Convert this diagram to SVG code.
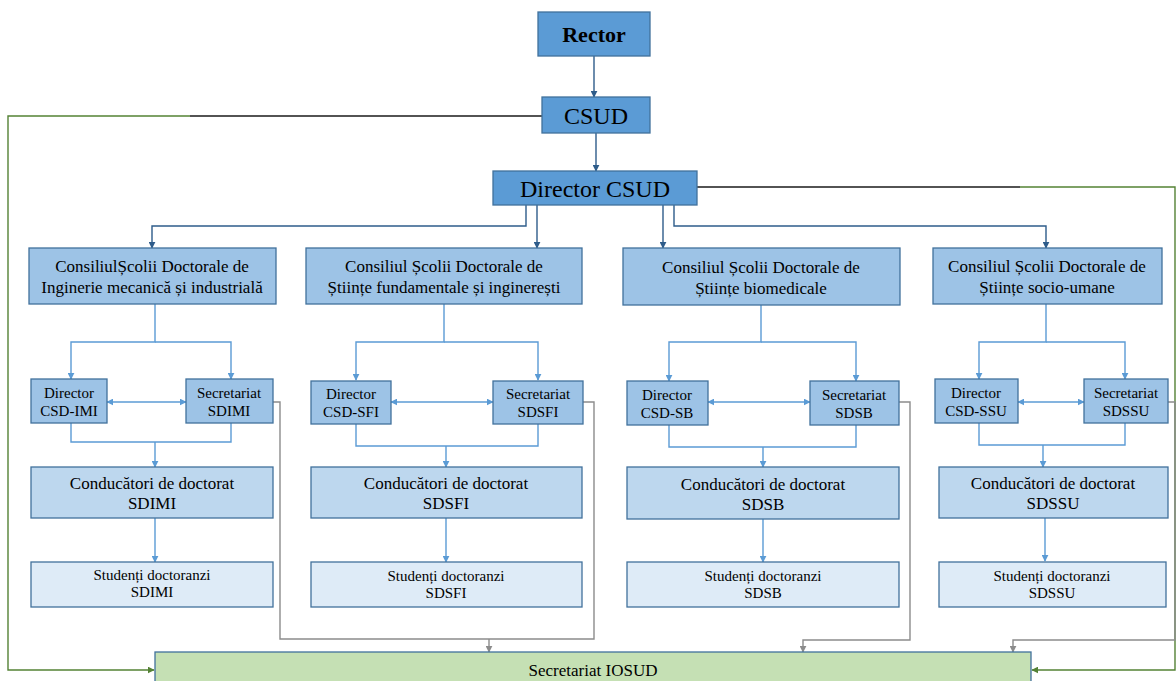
<svg xmlns="http://www.w3.org/2000/svg" width="1176" height="681" viewBox="0 0 1176 681" font-family="'Liberation Serif','Times New Roman',serif">
<style>
text{font-family:"Liberation Serif","Times New Roman",serif;fill:#000;text-anchor:middle}
.top{fill:#5B9BD5;stroke:#41719C;stroke-width:1.3}
.mid{fill:#9DC3E6;stroke:#41719C;stroke-width:1.3}
.cond{fill:#BDD7EE;stroke:#41719C;stroke-width:1.3}
.stud{fill:#DEEBF7;stroke:#41719C;stroke-width:1.3}
.ios{fill:#C5E0B4;stroke:#41719C;stroke-width:1.3}
.dk{fill:none;stroke:#2E5C8A;stroke-width:1.4}
.lb{fill:none;stroke:#5B9BD5;stroke-width:1.4}
.gr{fill:none;stroke:#8C8C8C;stroke-width:1.4}
.gn{fill:none;stroke:#548235;stroke-width:1.4}
.bk{fill:none;stroke:#1a1a1a;stroke-width:1.4}
.t16{font-size:17px}
.t14{font-size:15px}
.t24{font-size:24px}
</style>
<defs>
<marker id="ad" viewBox="0 0 10 10" refX="9" refY="5" markerWidth="7" markerHeight="7" markerUnits="userSpaceOnUse" orient="auto"><path d="M0,0 L10,5 L0,10 z" fill="#2E5C8A"/></marker>
<marker id="al" viewBox="0 0 10 10" refX="9" refY="5" markerWidth="7" markerHeight="7" markerUnits="userSpaceOnUse" orient="auto-start-reverse"><path d="M0,0 L10,5 L0,10 z" fill="#5B9BD5"/></marker>
<marker id="ag" viewBox="0 0 10 10" refX="9" refY="5" markerWidth="7" markerHeight="7" markerUnits="userSpaceOnUse" orient="auto"><path d="M0,0 L10,5 L0,10 z" fill="#8C8C8C"/></marker>
<marker id="an" viewBox="0 0 10 10" refX="9" refY="5" markerWidth="7" markerHeight="7" markerUnits="userSpaceOnUse" orient="auto"><path d="M0,0 L10,5 L0,10 z" fill="#548235"/></marker>
</defs>

<g id="connectors">
<path class="dk" d="M594,56 V97" marker-end="url(#ad)"/>
<path class="dk" d="M596,133 V171" marker-end="url(#ad)"/>
<path class="dk" d="M526,205 V226 H152 V248" marker-end="url(#ad)"/>
<path class="dk" d="M537,205 V248" marker-end="url(#ad)"/>
<path class="dk" d="M663,205 V248" marker-end="url(#ad)"/>
<path class="dk" d="M674,205 V226 H1046 V248" marker-end="url(#ad)"/>
<path class="bk" d="M542,116 H190"/>
<path class="gn" d="M190,116 H8 V670 H154" marker-end="url(#an)"/>
<path class="bk" d="M697,187 H1020"/>
<path class="gn" d="M1020,187 H1175 V670 H1032" marker-end="url(#an)"/>

<path class="lb" d="M155,304 V342 H71 V379" marker-end="url(#al)"/>
<path class="lb" d="M155,342 H231 V379" marker-end="url(#al)"/>
<path class="lb" d="M107,402 H186" marker-start="url(#al)" marker-end="url(#al)"/>
<path class="lb" d="M71,423 V442 H231 V423"/>
<path class="lb" d="M155,442 V467" marker-end="url(#al)"/>
<path class="lb" d="M155,518 V562" marker-end="url(#al)"/>
<path class="gr" d="M273,402 H280 V639 H594 V402 H583"/>
<path class="gr" d="M489,639 V652" marker-end="url(#ag)"/>

<path class="lb" d="M444,304 V342 H356 V380" marker-end="url(#al)"/>
<path class="lb" d="M444,342 H538 V380" marker-end="url(#al)"/>
<path class="lb" d="M391,402 H493" marker-start="url(#al)" marker-end="url(#al)"/>
<path class="lb" d="M356,424 V446 H538 V424"/>
<path class="lb" d="M446,446 V467" marker-end="url(#al)"/>
<path class="lb" d="M446,518 V562" marker-end="url(#al)"/>

<path class="lb" d="M761,305 V342 H669 V381" marker-end="url(#al)"/>
<path class="lb" d="M761,342 H856 V381" marker-end="url(#al)"/>
<path class="lb" d="M708,402 H810" marker-start="url(#al)" marker-end="url(#al)"/>
<path class="lb" d="M669,425 V447 H856 V425"/>
<path class="lb" d="M763,447 V467" marker-end="url(#al)"/>
<path class="lb" d="M763,519 V562" marker-end="url(#al)"/>
<path class="gr" d="M899,402 H910 V640 H803 V652" marker-end="url(#ag)"/>

<path class="lb" d="M1046,304 V342 H979 V379" marker-end="url(#al)"/>
<path class="lb" d="M1046,342 H1125 V379" marker-end="url(#al)"/>
<path class="lb" d="M1018,402 H1084" marker-start="url(#al)" marker-end="url(#al)"/>
<path class="lb" d="M979,423 V445 H1125 V423"/>
<path class="lb" d="M1043,445 V467" marker-end="url(#al)"/>
<path class="lb" d="M1045,518 V561" marker-end="url(#al)"/>
<path class="gr" d="M1168,402 H1175 V640 H1013 V652" marker-end="url(#ag)"/>
</g>

<g id="rector"><rect class="top" x="538" y="12" width="112" height="44"/><text x="594" y="42" font-size="22" font-weight="bold">Rector</text></g>
<g id="csud"><rect class="top" x="542" y="97" width="108" height="36"/><text class="t24" x="596" y="124">CSUD</text></g>
<g id="director-csud"><rect class="top" x="493" y="171" width="204" height="34"/><text class="t24" x="595" y="197">Director CSUD</text></g>

<g id="consiliu-imi"><rect class="mid" x="29" y="248" width="247" height="56"/><text class="t16" x="152" y="272">ConsiliulȘcolii Doctorale de</text><text class="t16" x="152" y="293">Inginerie mecanică și industrială</text></g>
<g id="consiliu-sfi"><rect class="mid" x="306" y="248" width="276" height="56"/><text class="t16" x="444" y="272">Consiliul Școlii Doctorale de</text><text class="t16" x="444" y="293">Științe fundamentale și inginerești</text></g>
<g id="consiliu-sb"><rect class="mid" x="623" y="248" width="277" height="57"/><text class="t16" x="761" y="273">Consiliul Școlii Doctorale de</text><text class="t16" x="761" y="294">Științe biomedicale</text></g>
<g id="consiliu-ssu"><rect class="mid" x="933" y="248" width="229" height="56"/><text class="t16" x="1047" y="272">Consiliul Școlii Doctorale de</text><text class="t16" x="1047" y="293">Științe socio-umane</text></g>

<g id="director-imi"><rect class="mid" x="31" y="379" width="76" height="44"/><text class="t14" x="69" y="398">Director</text><text class="t14" x="69" y="416">CSD-IMI</text></g>
<g id="secretariat-imi"><rect class="mid" x="186" y="379" width="87" height="44"/><text class="t14" x="229" y="398">Secretariat</text><text class="t14" x="229" y="416">SDIMI</text></g>
<g id="director-sfi"><rect class="mid" x="311" y="381" width="80" height="43"/><text class="t14" x="351" y="399">Director</text><text class="t14" x="351" y="417">CSD-SFI</text></g>
<g id="secretariat-sfi"><rect class="mid" x="493" y="381" width="90" height="43"/><text class="t14" x="538" y="399">Secretariat</text><text class="t14" x="538" y="417">SDSFI</text></g>
<g id="director-sb"><rect class="mid" x="627" y="381" width="81" height="44"/><text class="t14" x="667" y="400">Director</text><text class="t14" x="667" y="418">CSD-SB</text></g>
<g id="secretariat-sb"><rect class="mid" x="810" y="381" width="89" height="44"/><text class="t14" x="854" y="400">Secretariat</text><text class="t14" x="854" y="418">SDSB</text></g>
<g id="director-ssu"><rect class="mid" x="935" y="379" width="83" height="44"/><text class="t14" x="976" y="398">Director</text><text class="t14" x="976" y="416">CSD-SSU</text></g>
<g id="secretariat-ssu"><rect class="mid" x="1084" y="379" width="84" height="44"/><text class="t14" x="1126" y="398">Secretariat</text><text class="t14" x="1126" y="416">SDSSU</text></g>

<g id="conducatori-imi"><rect class="cond" x="31" y="467" width="242" height="51"/><text class="t16" x="152" y="489">Conducători de doctorat</text><text class="t16" x="152" y="509">SDIMI</text></g>
<g id="conducatori-sfi"><rect class="cond" x="311" y="467" width="271" height="51"/><text class="t16" x="446" y="489">Conducători de doctorat</text><text class="t16" x="446" y="509">SDSFI</text></g>
<g id="conducatori-sb"><rect class="cond" x="627" y="467" width="272" height="52"/><text class="t16" x="763" y="490">Conducători de doctorat</text><text class="t16" x="763" y="510">SDSB</text></g>
<g id="conducatori-ssu"><rect class="cond" x="939" y="467" width="229" height="51"/><text class="t16" x="1053" y="489">Conducători de doctorat</text><text class="t16" x="1053" y="509">SDSSU</text></g>

<g id="studenti-imi"><rect class="stud" x="31" y="562" width="242" height="45"/><text class="t14" x="152" y="580">Studenți doctoranzi</text><text class="t14" x="152" y="597">SDIMI</text></g>
<g id="studenti-sfi"><rect class="stud" x="311" y="562" width="271" height="45"/><text class="t14" x="446" y="581">Studenți doctoranzi</text><text class="t14" x="446" y="598">SDSFI</text></g>
<g id="studenti-sb"><rect class="stud" x="627" y="562" width="272" height="45"/><text class="t14" x="763" y="581">Studenți doctoranzi</text><text class="t14" x="763" y="598">SDSB</text></g>
<g id="studenti-ssu"><rect class="stud" x="939" y="562" width="227" height="45"/><text class="t14" x="1052" y="581">Studenți doctoranzi</text><text class="t14" x="1052" y="598">SDSSU</text></g>

<g id="secretariat-iosud"><rect class="ios" x="155" y="652" width="876" height="40"/><text class="t16" x="593" y="676">Secretariat IOSUD</text></g>
</svg>
